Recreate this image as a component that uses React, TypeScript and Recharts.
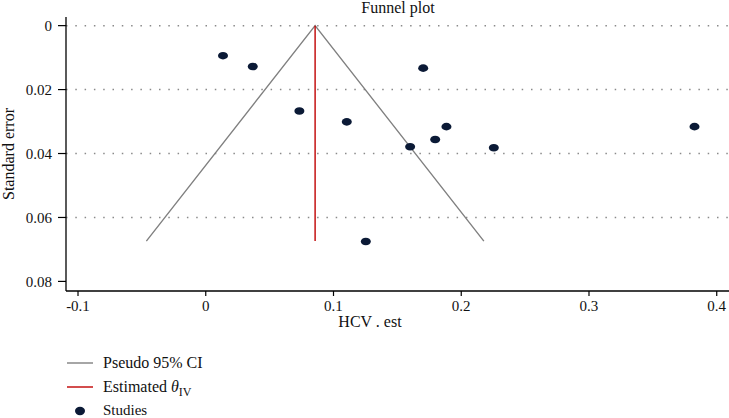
import React from "react";
import {
    ScatterChart,
    Scatter,
    XAxis,
    YAxis,
    ReferenceLine,
} from "recharts";

// study estimates (HCV . est) and their standard errors
const studyEst = [0.0135, 0.0368, 0.1702, 0.0733, 0.1104, 0.1884, 0.1796, 0.16, 0.2255, 0.3826, 0.1253];
const studySE = [0.0094, 0.0128, 0.0133, 0.0267, 0.0301, 0.0316, 0.0356, 0.0379, 0.0382, 0.0316, 0.0675];

// pseudo 95% CI funnel: bottom-left, apex, bottom-right
const funnelX = [-0.0465, 0.0856, 0.2177];
const funnelY = [0.0674, 0, 0.0674];

// estimated theta (IV)
const thetaX = [0.0856, 0.0856];
const thetaY = [0, 0.0674];

const xTicks = [-0.1, 0, 0.1, 0.2, 0.3, 0.4];
const yTicks = [0, 0.02, 0.04, 0.06, 0.08];
const gridLines = [0, 0.02, 0.04, 0.06];

const studies = studyEst.map((x, i) => ({ x, y: studySE[i] }));
const funnel = funnelX.map((x, i) => ({ x, y: funnelY[i] }));
const theta = thetaX.map((x, i) => ({ x, y: thetaY[i] }));

const FONT = "Liberation Serif, Times New Roman, serif";
const DOT = "#0b1a36";
const GRAY = "#808080";
const RED = "#c00000";

const Dot = (props: any) => (
    <ellipse cx={props.cx} cy={props.cy} rx={5} ry={3.8} fill={DOT} />
);
const NoDot = () => <g />;

const tickStyle = { fill: "#111", fontSize: 15, style: { fontFamily: FONT } };

export default function App() {
    return (
        <div
            style={{
                position: "absolute",
                left: 0,
                top: 0,
                width: 729,
                height: 418,
                background: "#fff",
                fontFamily: FONT,
                overflow: "hidden",
            }}
        >
            <ScatterChart
                width={729}
                height={418}
                margin={{ top: 17, right: 0, bottom: 0, left: 0 }}
                style={{ fontFamily: FONT }}
            >
                {gridLines.map((g) => (
                    <ReferenceLine
                        key={g}
                        y={g}
                        stroke="#8a8a8a"
                        strokeWidth={1.5}
                        strokeDasharray="1.5 7.8"
                    />
                ))}
                <XAxis
                    type="number"
                    dataKey="x"
                    domain={[-0.1094, 0.4096]}
                    ticks={xTicks}
                    allowDataOverflow
                    height={127}
                    tickSize={5}
                    tickMargin={4}
                    axisLine={{ stroke: "#000", strokeWidth: 1.3 }}
                    tickLine={{ stroke: "#000", strokeWidth: 1.2 }}
                    tick={tickStyle}
                />
                <YAxis
                    type="number"
                    dataKey="y"
                    domain={[-0.0027, 0.083]}
                    reversed
                    ticks={yTicks}
                    allowDataOverflow
                    width={66}
                    tickSize={8}
                    tickMargin={6}
                    axisLine={{ stroke: "#000", strokeWidth: 1.3 }}
                    tickLine={{ stroke: "#000", strokeWidth: 1.2 }}
                    tick={tickStyle}
                />
                <Scatter
                    data={funnel}
                    line={{ stroke: GRAY, strokeWidth: 1.4 }}
                    shape={NoDot}
                    isAnimationActive={false}
                />
                <Scatter
                    data={theta}
                    line={{ stroke: RED, strokeWidth: 1.4 }}
                    shape={NoDot}
                    isAnimationActive={false}
                />
                <Scatter data={studies} shape={Dot} isAnimationActive={false} />
            </ScatterChart>
            <svg
                width={729}
                height={418}
                style={{
                    position: "absolute",
                    left: 0,
                    top: 0,
                    pointerEvents: "none",
                    fontFamily: FONT,
                }}
                fill="#111"
            >
                <text x={398} y={13} textAnchor="middle" fontSize={16}>
                    Funnel plot
                </text>
                <text
                    transform="translate(14,154) rotate(-90)"
                    textAnchor="middle"
                    fontSize={16}
                >
                    Standard error
                </text>
                <text x={370} y={327} textAnchor="middle" fontSize={16}>
                    HCV . est
                </text>
                <line x1={67} x2={93} y1={363} y2={363} stroke={GRAY} strokeWidth={1.4} />
                <text x={103} y={368} fontSize={16}>
                    Pseudo 95% CI
                </text>
                <line x1={67} x2={93} y1={387} y2={387} stroke={RED} strokeWidth={1.4} />
                <text x={103} y={392} fontSize={16}>
                    Estimated <tspan fontStyle="italic">θ</tspan>
                    <tspan fontSize={12} dy={4}>IV</tspan>
                </text>
                <ellipse cx={80} cy={411} rx={5} ry={4.2} fill={DOT} />
                <text x={103} y={415} fontSize={15}>
                    Studies
                </text>
            </svg>
        </div>
    );
}
